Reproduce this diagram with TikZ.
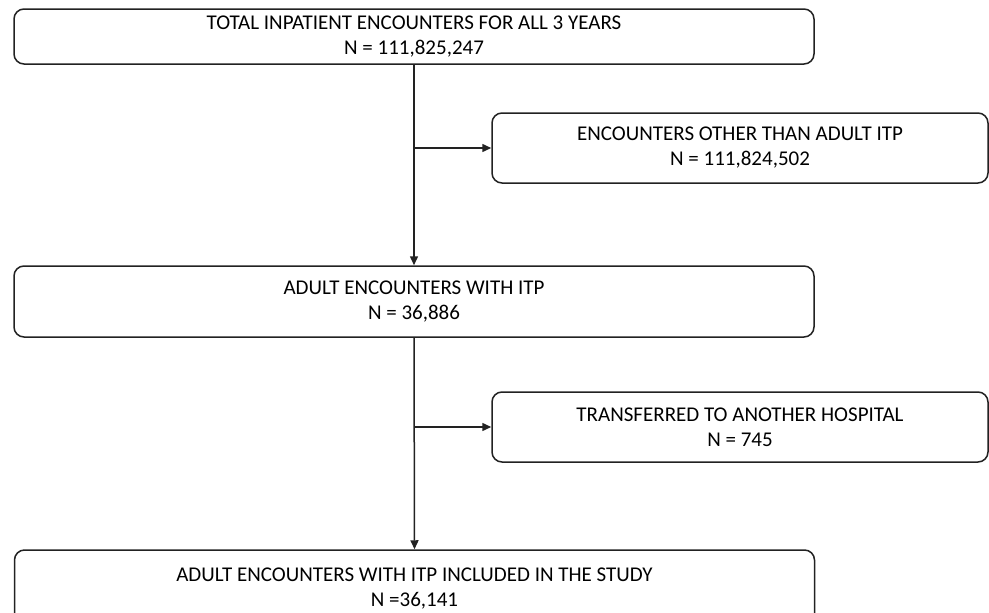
\documentclass[tikz,border=0pt]{standalone}
\usepackage{fontspec}
\setmainfont{Carlito}
\usetikzlibrary{arrows.meta}
\definecolor{edge}{HTML}{222222}
\tikzset{
  box/.style={draw=edge, line width=1.5pt, rounded corners=10pt, align=center,
    inner sep=0pt, font=\fontsize{21}{25}\selectfont, text=black},
  wide/.style={box, minimum width=800pt},
  side/.style={box, minimum width=496pt, minimum height=70pt},
  arr/.style={draw=edge, line width=1.5pt, -{Triangle[length=9pt,width=8pt]}}
}
\begin{document}
\begin{tikzpicture}[x=1pt,y=-1pt]
\useasboundingbox (0,0) rectangle (989,613);
\node[wide, minimum height=55pt] (b1) at (414,36.5) {TOTAL INPATIENT ENCOUNTERS FOR ALL 3 YEARS\\N = 111,825,247};
\node[side] (b2) at (740,148) {ENCOUNTERS OTHER THAN ADULT ITP\\N = 111,824,502};
\node[wide, minimum height=71pt] (b3) at (414,301.5) {ADULT ENCOUNTERS WITH ITP\\N = 36,886};
\node[side] (b4) at (740,427) {TRANSFERRED TO ANOTHER HOSPITAL\\N = 745};
\node[wide, minimum height=78pt] (b5) at (414.5,589) {ADULT ENCOUNTERS WITH ITP INCLUDED IN THE STUDY\\N =36,141};
\coordinate (j1) at (b1.south |- b2.west);
\coordinate (j2) at (b3.south |- b4.west);
\draw[arr] (b1.south) -- (b3.north);
\draw[arr] (j1) -- (b2.west);
\draw[arr] (b3.south) -- (b5.north);
\draw[arr] (j2) -- (b4.west);
\end{tikzpicture}
\end{document}
